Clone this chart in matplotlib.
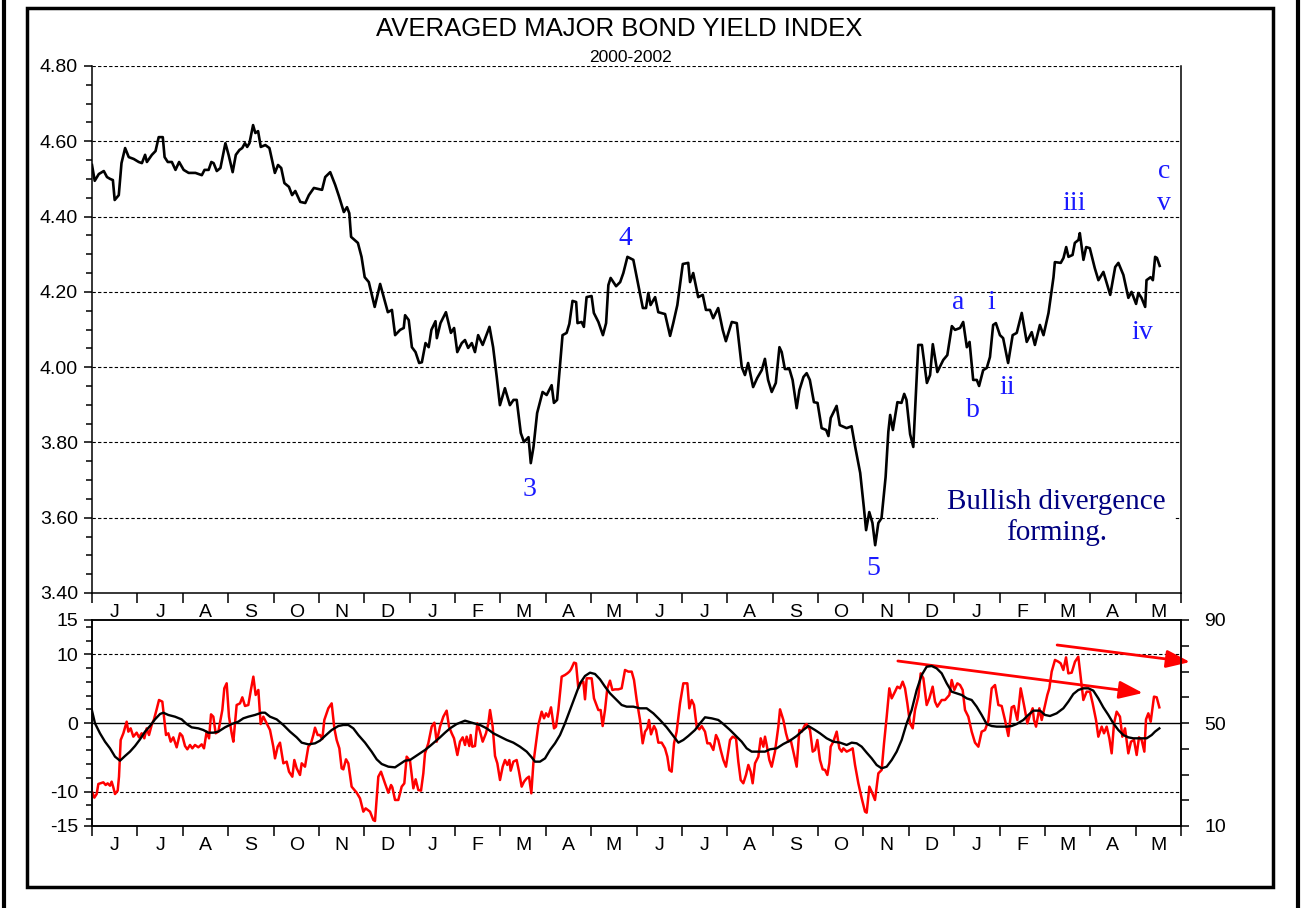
import numpy as np
import matplotlib.pyplot as plt
from matplotlib.lines import Line2D
from matplotlib.patches import Rectangle

plt.rcParams['font.family'] = ['Liberation Sans', 'DejaVu Sans']
plt.rcParams['axes.unicode_minus'] = False

# x axis: months since 1 June 2000
months = ['J', 'J', 'A', 'S', 'O', 'N', 'D', 'J', 'F', 'M', 'A', 'M',
          'J', 'J', 'A', 'S', 'O', 'N', 'D', 'J', 'F', 'M', 'A', 'M']

# Averaged major bond yield index
yield_t = [0.00, 0.06, 0.15, 0.26, 0.33, 0.40, 0.46, 0.50, 0.59, 0.65,
           0.73, 0.81, 0.92, 1.03, 1.10, 1.17, 1.21, 1.32, 1.40, 1.47,
           1.56, 1.60, 1.67, 1.76, 1.84, 1.92, 2.02, 2.13, 2.28, 2.42,
           2.48, 2.57, 2.63, 2.68, 2.75, 2.83, 2.94, 3.01, 3.10, 3.17,
           3.25, 3.31, 3.37, 3.42, 3.47, 3.55, 3.60, 3.66, 3.72, 3.82,
           3.91, 4.03, 4.10, 4.17, 4.24, 4.34, 4.41, 4.48, 4.59, 4.70,
           4.78, 4.89, 5.00, 5.07, 5.14, 5.25, 5.36, 5.44, 5.55, 5.62,
           5.67, 5.71, 5.86, 5.94, 6.01, 6.10, 6.23, 6.35, 6.43, 6.52,
           6.61, 6.68, 6.79, 6.87, 6.90, 6.98, 7.05, 7.13, 7.21, 7.27,
           7.35, 7.42, 7.48, 7.57, 7.60, 7.68, 7.80, 7.91, 7.98, 8.05,
           8.15, 8.22, 8.29, 8.37, 8.44, 8.51, 8.61, 8.76, 8.84, 8.92,
           8.99, 9.10, 9.21, 9.29, 9.36, 9.45, 9.52, 9.62, 9.67, 9.73,
           9.81, 9.93, 10.02, 10.13, 10.18, 10.25, 10.37, 10.46, 10.52, 10.59,
           10.67, 10.70, 10.79, 10.84, 10.90, 11.01, 11.06, 11.16, 11.26, 11.33,
           11.38, 11.43, 11.55, 11.64, 11.71, 11.80, 11.93, 12.06, 12.14, 12.21,
           12.26, 12.31, 12.41, 12.48, 12.63, 12.74, 12.81, 12.90, 13.02, 13.14,
           13.18, 13.25, 13.36, 13.46, 13.53, 13.62, 13.69, 13.80, 13.90, 13.97,
           14.10, 14.21, 14.32, 14.39, 14.46, 14.57, 14.66, 14.76, 14.83, 14.90,
           14.98, 15.07, 15.15, 15.20, 15.27, 15.37, 15.44, 15.53, 15.59, 15.68,
           15.75, 15.82, 15.91, 15.99, 16.08, 16.18, 16.23, 16.28, 16.41, 16.48,
           16.63, 16.74, 16.82, 16.93, 17.01, 17.06, 17.13, 17.20, 17.26, 17.33,
           17.40, 17.49, 17.55, 17.59, 17.65, 17.75, 17.84, 17.90, 17.95, 18.03,
           18.10, 18.21, 18.29, 18.40, 18.47, 18.53, 18.63, 18.76, 18.85, 18.95,
           19.02, 19.13, 19.20, 19.28, 19.34, 19.42, 19.50, 19.55, 19.64, 19.72,
           19.79, 19.86, 19.92, 20.01, 20.08, 20.19, 20.29, 20.38, 20.49, 20.60,
           20.71, 20.78, 20.89, 20.97, 21.08, 21.19, 21.22, 21.35, 21.41, 21.47,
           21.52, 21.61, 21.66, 21.74, 21.77, 21.85, 21.91, 21.99, 22.10, 22.18,
           22.29, 22.44, 22.55, 22.62, 22.73, 22.84, 22.91, 23.01, 23.06, 23.13,
           23.21, 23.24, 23.33, 23.38, 23.43, 23.47, 23.53]
yield_v = [4.537, 4.495, 4.513, 4.521, 4.505, 4.500, 4.497, 4.444, 4.457, 4.542,
           4.582, 4.558, 4.553, 4.545, 4.542, 4.564, 4.545, 4.564, 4.574, 4.611,
           4.611, 4.558, 4.545, 4.545, 4.524, 4.545, 4.524, 4.516, 4.516, 4.510,
           4.524, 4.524, 4.545, 4.542, 4.521, 4.529, 4.595, 4.564, 4.518, 4.564,
           4.577, 4.582, 4.595, 4.585, 4.595, 4.643, 4.622, 4.627, 4.585, 4.590,
           4.582, 4.516, 4.537, 4.529, 4.489, 4.479, 4.457, 4.468, 4.439, 4.436,
           4.457, 4.476, 4.473, 4.471, 4.505, 4.518, 4.484, 4.455, 4.412, 4.425,
           4.409, 4.346, 4.330, 4.293, 4.239, 4.226, 4.160, 4.221, 4.186, 4.146,
           4.152, 4.085, 4.099, 4.104, 4.138, 4.125, 4.053, 4.040, 4.011, 4.013,
           4.064, 4.053, 4.099, 4.122, 4.077, 4.117, 4.146, 4.091, 4.104, 4.040,
           4.064, 4.072, 4.051, 4.064, 4.040, 4.085, 4.059, 4.107, 4.053, 3.974,
           3.899, 3.944, 3.899, 3.913, 3.913, 3.825, 3.801, 3.814, 3.745, 3.788,
           3.878, 3.934, 3.926, 3.952, 3.905, 3.913, 4.085, 4.091, 4.115, 4.176,
           4.173, 4.117, 4.120, 4.107, 4.186, 4.189, 4.144, 4.120, 4.085, 4.117,
           4.218, 4.237, 4.215, 4.226, 4.250, 4.293, 4.285, 4.205, 4.157, 4.157,
           4.197, 4.165, 4.186, 4.146, 4.141, 4.083, 4.117, 4.165, 4.274, 4.277,
           4.226, 4.250, 4.186, 4.192, 4.152, 4.152, 4.130, 4.157, 4.099, 4.069,
           4.120, 4.117, 4.000, 3.979, 4.011, 3.947, 3.971, 3.992, 4.022, 3.966,
           3.934, 3.958, 4.053, 4.040, 3.995, 3.995, 3.966, 3.891, 3.939, 3.974,
           3.984, 3.966, 3.907, 3.905, 3.838, 3.833, 3.817, 3.865, 3.897, 3.846,
           3.838, 3.843, 3.788, 3.719, 3.628, 3.567, 3.615, 3.586, 3.527, 3.586,
           3.599, 3.708, 3.828, 3.873, 3.833, 3.907, 3.905, 3.929, 3.913, 3.822,
           3.788, 4.059, 4.059, 3.958, 3.979, 4.061, 3.987, 4.019, 4.032, 4.109,
           4.099, 4.104, 4.120, 4.053, 4.067, 3.966, 3.966, 3.950, 3.992, 3.998,
           4.027, 4.112, 4.117, 4.085, 4.077, 4.011, 4.085, 4.091, 4.144, 4.067,
           4.093, 4.059, 4.112, 4.085, 4.144, 4.239, 4.279, 4.277, 4.290, 4.319,
           4.293, 4.298, 4.330, 4.338, 4.356, 4.285, 4.319, 4.316, 4.263, 4.231,
           4.253, 4.192, 4.266, 4.277, 4.245, 4.184, 4.200, 4.168, 4.197, 4.184,
           4.160, 4.231, 4.239, 4.231, 4.293, 4.290, 4.269]

# Momentum oscillator (red)
osc_t = [0.000, 0.051, 0.103, 0.140, 0.250, 0.301, 0.345, 0.397, 0.433, 0.470,
         0.507, 0.566, 0.595, 0.632, 0.691, 0.764, 0.801, 0.852, 0.911, 0.984,
         1.036, 1.095, 1.153, 1.205, 1.256, 1.315, 1.366, 1.425, 1.477, 1.550,
         1.587, 1.631, 1.682, 1.734, 1.792, 1.866, 1.939, 1.991, 2.050, 2.101,
         2.160, 2.211, 2.270, 2.343, 2.417, 2.468, 2.527, 2.579, 2.623, 2.674,
         2.725, 2.784, 2.872, 2.916, 2.968, 3.019, 3.078, 3.115, 3.188, 3.262,
         3.313, 3.372, 3.445, 3.504, 3.556, 3.607, 3.666, 3.717, 3.776, 3.849,
         3.923, 3.996, 4.033, 4.092, 4.143, 4.217, 4.290, 4.342, 4.415, 4.459,
         4.511, 4.584, 4.621, 4.694, 4.768, 4.826, 4.878, 4.915, 4.973, 5.025,
         5.076, 5.120, 5.208, 5.282, 5.341, 5.392, 5.451, 5.502, 5.539, 5.598,
         5.649, 5.722, 5.833, 5.906, 5.980, 6.031, 6.127, 6.200, 6.237, 6.310,
         6.369, 6.457, 6.531, 6.590, 6.619, 6.678, 6.751, 6.825, 6.883, 6.935,
         7.008, 7.082, 7.133, 7.192, 7.251, 7.302, 7.339, 7.412, 7.486, 7.545,
         7.596, 7.670, 7.743, 7.816, 7.868,
         7.927, 7.978, 8.052, 8.110, 8.169, 8.221, 8.257, 8.316, 8.345, 8.382,
         8.441, 8.492, 8.551, 8.610, 8.683, 8.735, 8.772, 8.830, 8.882, 8.933,
         8.992, 9.051, 9.102, 9.153, 9.198, 9.227, 9.286, 9.359, 9.411, 9.469,
         9.521, 9.580, 9.631, 9.682, 9.727, 9.785, 9.837, 9.910, 9.962, 10.006,
         10.057, 10.116, 10.182, 10.226, 10.277, 10.351, 10.424, 10.476, 10.520, 10.557,
         10.623, 10.667, 10.718, 10.770, 10.828, 10.865, 10.902, 11.012, 11.063, 11.159,
         11.210, 11.254, 11.306, 11.357, 11.416, 11.468, 11.526, 11.600, 11.673, 11.747,
         11.820, 11.894, 11.945, 12.004, 12.077, 12.136, 12.188, 12.239, 12.276, 12.320,
         12.386, 12.430, 12.481, 12.555, 12.628, 12.680, 12.724, 12.775, 12.827, 12.885,
         12.959, 13.032, 13.120, 13.164, 13.216, 13.267, 13.326, 13.385, 13.436, 13.510,
         13.561, 13.620, 13.693, 13.752, 13.803, 13.855, 13.914, 13.972, 14.061, 14.119,
         14.193, 14.244, 14.296, 14.354, 14.413, 14.465, 14.516, 14.560, 14.612, 14.685,
         14.737, 14.795, 14.832, 14.869, 14.928, 14.979, 15.052, 15.126, 15.163, 15.236,
         15.295, 15.346, 15.398, 15.457, 15.530, 15.589, 15.640, 15.713, 15.750, 15.824,
         15.883, 15.934, 15.986, 16.044, 16.103, 16.155, 16.206, 16.250, 16.279, 16.338,
         16.412, 16.470, 16.522, 16.559, 16.632, 16.706, 16.764, 16.816, 16.889, 16.963,
         17.036, 17.073, 17.132, 17.183, 17.256, 17.330, 17.403, 17.455, 17.514, 17.572,
         17.624, 17.697, 17.749, 17.807, 17.866, 17.918, 17.969, 18.028, 18.087, 18.138,
         18.211, 18.263, 18.322, 18.395, 18.454, 18.527, 18.579, 18.630, 18.726, 18.799,
         18.895, 18.946, 19.005, 19.071, 19.130, 19.188, 19.240, 19.313, 19.387, 19.460,
         19.534, 19.607, 19.681, 19.754, 19.828, 19.901, 19.975, 20.048, 20.121, 20.195,
         20.268, 20.320, 20.393, 20.467, 20.540, 20.614, 20.672, 20.731, 20.760, 20.805,
         20.878, 20.930, 21.003, 21.054, 21.098, 21.150, 21.223, 21.297, 21.348, 21.407,
         21.466, 21.517, 21.591, 21.664, 21.737, 21.789, 21.848, 21.921, 21.994, 22.053,
         22.127, 22.178, 22.252, 22.303, 22.362, 22.421, 22.472, 22.524, 22.582, 22.655,
         22.707, 22.766, 22.839, 22.898, 22.964, 23.023, 23.074, 23.133, 23.192, 23.229,
         23.280, 23.332, 23.405, 23.464, 23.523]
osc_v = [-10.00, -10.87, -10.34, -8.88, -8.64, -9.03, -8.79, -9.13, -8.54, -9.37,
         -10.34, -9.85, -7.82, -2.48, -1.50, 0.19, -1.26, -0.78, -1.99, -1.41,
         -2.09, -1.50, -2.23, -0.78, -1.75, -0.29, 0.53, 1.99, 3.35, 3.11,
         0.92, -1.75, -1.50, -2.72, -2.09, -3.54, -1.50, -1.89, -3.35, -3.83,
         -3.20, -3.69, -3.20, -3.54, -3.11, -3.69, -1.26, -2.23, 1.26, 0.92,
         -1.50, -1.26, 1.89, 5.05, 5.78, 0.92, -1.50, -2.72, 2.62, 2.86,
         3.74, 2.48, 2.62, 4.90, 6.75, 4.08, 4.81, -0.15, 0.92, -0.05,
         -1.02, -3.45, -5.15, -3.45, -2.86, -5.87, -5.63, -7.09, -7.82, -5.39,
         -6.60, -7.57, -5.87, -6.36, -3.45, -2.96, -1.75, -0.68, -1.75, -1.75,
         -2.33, 0.44, 2.14, 2.86, -0.78, -2.48, -3.69, -6.60, -6.75, -5.29,
         -5.87, -9.27, -10.15, -10.97, -12.91, -12.43, -12.91, -14.13, -14.27, -7.82,
         -7.09, -8.79, -10.15, -9.03, -9.37, -11.21, -11.21, -9.27, -8.79, -4.90,
         -5.49, -9.51, -8.20, -9.76, -9.85, -7.33, -4.42, -2.96, -0.53, 0.05,
         -2.72, -0.53, 0.92, 1.80, -0.53,
         -1.50, -2.23, -4.66, -2.72, -2.09, -3.20, -1.99, -3.35, -1.75, -3.45,
         -3.35, -0.05, -1.26, -2.72, -1.50, -0.05, 1.89, -0.53, -4.80, -5.87,
         -8.30, -6.36, -5.39, -6.11, -5.39, -6.94, -5.63, -5.39, -7.09, -9.27,
         -8.54, -8.06, -7.81, -10.24, -5.87, -2.96, -0.29, 1.65, 0.68, 1.41,
         0.92, 2.28, -0.78, -0.53, 1.89, 6.75, 6.99, 7.23, 7.48, 7.82,
         8.79, 8.69, 5.05, 5.78, 6.02, 3.45, 6.51, 6.51, 3.59, 1.89,
         1.89, -0.44, 1.89, 5.05, 6.17, 4.81, 4.90, 4.90, 5.05, 7.72,
         7.48, 7.48, 6.26, 3.35, 0.44, -2.96, -1.26, -0.78, 0.44, -1.65,
         -0.44, -1.02, -2.86, -2.86, -3.69, -4.90, -6.84, -7.09, -2.96, -1.26,
         2.86, 5.78, 5.78, 2.14, 3.35, 2.62, -0.53, -0.92, -0.44, -1.26,
         -2.96, -2.96, -3.93, -1.75, -2.47, -3.93, -5.39, -6.36, -2.47, -1.99,
         -2.23, -5.63, -8.30, -8.78, -7.57, -6.11, -7.09, -8.78, -5.87, -4.90,
         -2.23, -3.45, -1.99, -3.20, -5.39, -6.36, -4.17, -0.53, 1.99, 0.44,
         -1.50, -2.72, -2.47, -4.17, -6.36, -1.02, -1.26, -0.29, -0.15, -1.02,
         -4.17, -3.93, -2.47, -5.39, -6.75, -6.84, -7.57, -5.87, -3.45, -2.72,
         -1.26, -3.69, -4.17, -3.69, -4.17, -3.93, -3.69, -6.11, -8.78, -10.97,
         -12.91, -13.06, -9.27, -10.00, -11.21, -7.33, -6.84, -2.96, 0.92, 5.05,
         3.59, 4.56, 5.29, 5.05, 6.02, 5.05, 2.86, -0.05, -0.78, 1.89,
         3.84, 7.23, 6.51, 2.62, 3.59, 5.29, 3.11, 2.38, 3.35, 3.35,
         4.08, 6.26, 4.81, 5.78, 5.53, 4.81, 1.89, 0.92, -1.26, -2.86,
         -3.45, -1.26, -1.02, 0.34, 5.05, 5.53, 2.62, 2.48, 0.44, -1.89,
         2.28, 2.48, 0.44, 5.05, 2.62, -0.05, 1.17, 2.14, 0.44, -0.53,
         2.14, 0.44, 2.62, 4.08, 5.05, 7.48, 9.18, 8.93, 8.69, 7.72,
         9.56, 7.23, 7.33, 8.93, 9.66, 6.75, 3.35, 4.56, 4.56, 2.86,
         0.44, -1.99, -0.53, -1.50, -0.53, -2.23, -4.42, -0.05, 1.65, 0.92,
         -1.99, -0.78, -4.42, -2.72, -2.47, -4.66, -2.09, -2.47, -4.17, 0.53,
         1.41, 0.19, 3.84, 3.74, 2.28]

# Smoothed signal line (black)
sig_t = [0.000, 0.066, 0.176, 0.287, 0.397, 0.507, 0.617, 0.727, 0.837, 0.948,
         1.058, 1.168, 1.278, 1.388, 1.499, 1.572, 1.682, 1.829, 1.976, 2.086,
         2.196, 2.343, 2.454, 2.564, 2.674, 2.784, 2.931, 3.078, 3.225, 3.335,
         3.445, 3.592, 3.739, 3.813, 3.923, 4.070, 4.217, 4.364, 4.511, 4.621,
         4.768, 4.915, 5.025, 5.135, 5.282, 5.429, 5.539, 5.649, 5.759, 5.870,
         6.017, 6.163, 6.274, 6.384, 6.531, 6.678, 6.788, 6.898, 7.008, 7.118,
         7.229, 7.339, 7.449, 7.559, 7.670, 7.780,
         7.890, 8.037, 8.221, 8.367, 8.551, 8.698, 8.845, 8.992, 9.139, 9.286,
         9.433, 9.580, 9.690, 9.763, 9.873, 9.984, 10.094, 10.204, 10.314, 10.424,
         10.535, 10.645, 10.755, 10.865, 10.975, 11.085, 11.196, 11.306, 11.416, 11.563,
         11.673, 11.783, 11.930, 12.077, 12.224, 12.371, 12.518, 12.665, 12.812, 12.922,
         13.032, 13.142, 13.289, 13.400, 13.510, 13.657, 13.803, 13.914, 14.061, 14.208,
         14.318, 14.428, 14.538, 14.685, 14.832, 14.942, 15.089, 15.236, 15.383, 15.530,
         15.677, 15.787,
         15.934, 16.044, 16.191, 16.338, 16.485, 16.632, 16.742, 16.852, 16.963, 17.073,
         17.183, 17.293, 17.403, 17.514, 17.624, 17.734, 17.844, 17.954, 18.064, 18.175,
         18.285, 18.395, 18.505, 18.615, 18.726, 18.836, 18.946, 19.056, 19.166, 19.277,
         19.387, 19.497, 19.607, 19.717, 19.828, 19.938, 20.048, 20.158, 20.268, 20.378,
         20.525, 20.635, 20.746, 20.893, 21.003, 21.113, 21.260, 21.407, 21.517, 21.627,
         21.737, 21.848, 21.958, 22.068, 22.178, 22.288, 22.399, 22.509, 22.619, 22.729,
         22.839, 22.949, 23.096, 23.243, 23.354, 23.427, 23.523]
sig_v = [1.80, -0.05, -1.50, -2.72, -3.69, -4.90, -5.49, -4.81, -4.17, -3.35,
         -2.38, -1.26, -0.44, 0.53, 1.31, 1.50, 1.17, 0.92, 0.53, -0.15,
         -0.63, -0.78, -1.02, -1.41, -1.41, -1.26, -0.63, -0.15, 0.19, 0.68,
         0.92, 1.17, 1.50, 1.50, 0.92, 0.53, -0.29, -1.26, -2.09, -2.86,
         -3.11, -2.96, -2.57, -1.89, -1.02, -0.44, -0.29, -0.29, -0.78, -1.75,
         -2.86, -4.17, -5.29, -5.97, -6.36, -6.46, -5.97, -5.49, -5.39, -4.90,
         -4.42, -3.93, -3.35, -2.72, -2.09, -1.41,
         -0.78, -0.15, 0.34, 0.05, -0.29, -0.78, -1.50, -1.99, -2.47, -2.86,
         -3.45, -4.17, -5.00, -5.63, -5.63, -5.15, -3.93, -2.96, -1.75, -0.05,
         1.89, 3.84, 5.78, 6.85, 7.33, 7.14, 6.36, 5.29, 4.32, 3.35,
         2.62, 2.38, 2.38, 2.14, 2.14, 1.41, 0.44, -0.63, -1.89, -2.86,
         -2.47, -1.89, -1.02, -0.05, 0.83, 0.68, 0.44, -0.15, -1.02, -1.99,
         -2.72, -3.69, -4.17, -4.17, -4.17, -3.83, -3.69, -3.06, -2.57, -1.89,
         -1.02, -0.44,
         -1.02, -1.50, -2.23, -2.72, -2.86, -3.20, -2.86, -2.96, -3.45, -4.32,
         -5.15, -6.12, -6.60, -6.36, -5.39, -4.17, -2.47, -0.05, 1.89, 4.81,
         6.99, 8.20, 8.30, 7.96, 7.23, 5.78, 4.56, 4.32, 4.08, 3.59,
         3.35, 2.38, 1.17, -0.15, -0.44, -0.53, -0.53, -0.53, -0.44, -0.15,
         0.44, 1.17, 1.80, 1.80, 1.17, 1.02, 1.41, 2.14, 3.11, 4.22,
         4.81, 5.05, 5.05, 4.71, 3.59, 2.28, 1.17, -0.05, -1.02, -1.75,
         -2.09, -2.23, -2.23, -2.23, -1.75, -1.26, -0.78]

# Elliott wave labels (text, month, yield level)
wave_labels = [('3', 9.65, 3.674), ('4', 11.75, 4.343), ('5', 17.21, 3.466),
               ('a', 19.09, 4.173), ('i', 19.83, 4.173), ('b', 19.42, 3.886),
               ('ii', 20.17, 3.945), ('iii', 21.64, 4.436), ('iv', 23.14, 4.093),
               ('c', 23.63, 4.521), ('v', 23.63, 4.436)]

W, H = 1303, 908
fig = plt.figure(figsize=(W / 100, H / 100), dpi=100)
ax = fig.add_axes([92 / W, 1 - 593 / H, (1181 - 92) / W, (593 - 66) / H])
ax2 = fig.add_axes([92 / W, 1 - 826 / H, (1181 - 92) / W, (826 - 620) / H])


def month_axis(a):
    a.set_xlim(0, 24)
    a.set_xticks(np.arange(0, 25))
    a.set_xticklabels([''] * 25)
    a.set_xticks(np.arange(0.5, 24), minor=True)
    a.set_xticklabels(months, minor=True)
    a.tick_params(axis='x', which='major', direction='out', length=7, width=1.1)
    a.tick_params(axis='x', which='minor', length=0, pad=8, labelsize=14)


# top panel
ax.plot(yield_t, yield_v, color='black', lw=1.9, zorder=3)
ax.set_ylim(3.4, 4.8)
yt = np.arange(3.4, 4.81, 0.2)
ax.set_yticks(yt)
ax.set_yticklabels(['%.2f' % v for v in yt])
ax.set_yticks(np.arange(3.4, 4.801, 0.05), minor=True)
ax.tick_params(axis='y', which='major', direction='out', length=6, width=1.1,
               labelsize=14, pad=4)
ax.tick_params(axis='y', which='minor', direction='out', length=4.3, width=1.1)
for g in yt[1:]:
    ax.axhline(g, color='black', lw=0.8, ls=(0, (3, 2)), zorder=1)
ax.spines['top'].set_visible(False)
for s in ['left', 'right', 'bottom']:
    ax.spines[s].set_linewidth(1.1)
month_axis(ax)

for txt, tx, ty in wave_labels:
    ax.text(tx, ty, txt, ha='center', va='center', fontsize=20, color='#1a1aff',
            family=['Liberation Serif', 'DejaVu Serif'])

ax.text(21.25, 3.60, 'Bullish divergence\nforming.', ha='center', va='center',
        fontsize=21, color='#000080', family=['Liberation Serif', 'DejaVu Serif'],
        linespacing=1.2, zorder=5,
        bbox=dict(facecolor='white', edgecolor='none', pad=6))

# bottom panel
ax2.set_ylim(-15, 15)
ax2.set_yticks([-15, -10, 0, 10, 15])
ax2.set_yticks(np.arange(-14, 15, 2), minor=True)
ax2.tick_params(axis='y', which='major', direction='out', length=6, width=1.1,
                labelsize=14, pad=4)
ax2.tick_params(axis='y', which='minor', direction='out', length=4.3, width=1.1)
ax2.axhline(0, color='black', lw=1.0, zorder=1)
for g in [-10, 10]:
    ax2.axhline(g, color='black', lw=0.8, ls=(0, (3, 2)), zorder=1)
ax2.plot(osc_t, osc_v, color='red', lw=1.8, zorder=3)
ax2.plot(sig_t, sig_v, color='black', lw=1.7, zorder=4)
for s in ax2.spines.values():
    s.set_linewidth(1.1)
month_axis(ax2)

ax3 = ax2.twinx()
ax3.set_ylim(10, 90)
ax3.set_yticks(np.arange(10, 91, 10))
ax3.set_yticklabels(['10', '', '', '', '50', '', '', '', '90'])
ax3.tick_params(axis='y', direction='out', length=6, width=1.1, labelsize=14, pad=11)
for s in ax3.spines.values():
    s.set_linewidth(1.1)

arrow = dict(arrowstyle='-|>,head_length=0.8,head_width=0.3', color='red', lw=2,
             mutation_scale=18, shrinkA=0, shrinkB=0, clip_on=False)
ax2.annotate('', xy=(23.16, 4.37), xytext=(17.76, 9.03), arrowprops=arrow,
             annotation_clip=False)
ax2.annotate('', xy=(24.2, 8.88), xytext=(21.27, 11.36), arrowprops=arrow,
             annotation_clip=False)

# titles
fig.text(619 / W, 1 - 29 / H, 'AVERAGED MAJOR BOND YIELD INDEX', ha='center',
         va='center', fontsize=18.5)
fig.text(631 / W, 1 - 57.5 / H, '2000-2002', ha='center', va='center', fontsize=12.5)

# frames
fig.add_artist(Rectangle((27 / W, 1 - 887 / H), 1246 / W, 879 / H,
                         transform=fig.transFigure, fill=False, lw=2.5,
                         edgecolor='black'))
for xl in [4, 1298]:
    fig.add_artist(Line2D([xl / W, xl / W], [0, 1], transform=fig.transFigure,
                          color='black', lw=3))

fig.savefig('out.png', dpi=100)
